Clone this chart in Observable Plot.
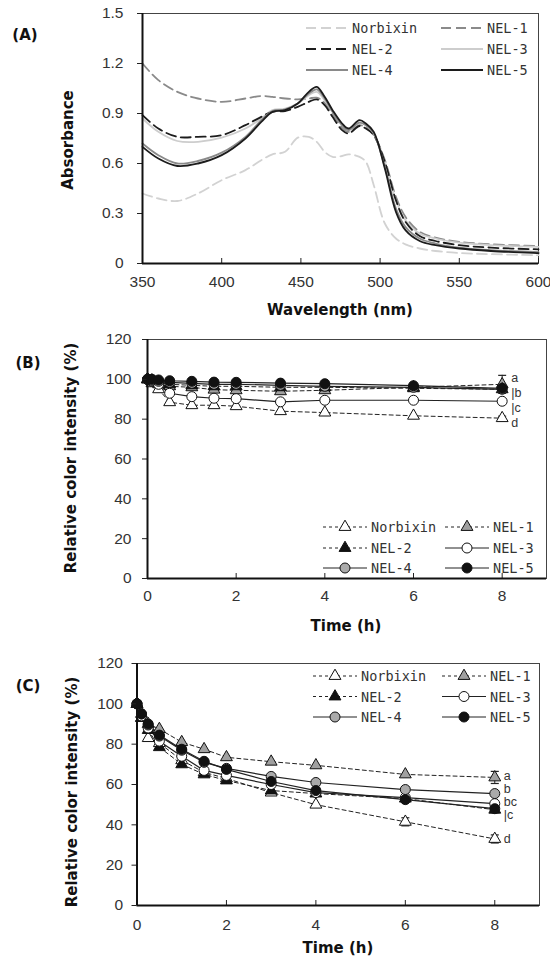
<!DOCTYPE html>
<html>
<head>
<meta charset="utf-8">
<script src="https://cdn.jsdelivr.net/npm/d3@7"></script>
<script src="https://cdn.jsdelivr.net/npm/@observablehq/plot@0.6"></script>
<style>
html,body{margin:0;padding:0;background:#fff;}
#wrap{position:relative;width:550px;height:957px;overflow:hidden;background:#fff;}
#wrap svg{position:absolute;left:0;display:block;overflow:visible;}
</style>
</head>
<body>
<div id="wrap"></div>
<script>
// ================= DATA =================
const seriesNames = ["Norbixin", "NEL-1", "NEL-2", "NEL-3", "NEL-4", "NEL-5"];

// Panel A: absorbance spectra
const wavelengths = [350, 360, 372, 385, 400, 415, 425, 432, 440, 448, 455, 460, 465, 470, 476, 480, 487, 491, 496, 503, 510, 516, 525, 535, 550, 570, 600];
const absNorbixin = [0.42, 0.39, 0.375, 0.42, 0.50, 0.56, 0.62, 0.655, 0.67, 0.755, 0.76, 0.73, 0.67, 0.64, 0.645, 0.655, 0.64, 0.61, 0.47, 0.24, 0.15, 0.115, 0.09, 0.075, 0.063, 0.056, 0.05];
const absNEL1 = [1.20, 1.10, 1.03, 0.99, 0.97, 0.99, 1.005, 1.00, 0.99, 0.985, 0.99, 0.995, 0.965, 0.90, 0.815, 0.79, 0.83, 0.815, 0.77, 0.62, 0.40, 0.28, 0.19, 0.155, 0.13, 0.115, 0.105];
const absNEL2 = [0.89, 0.81, 0.76, 0.76, 0.77, 0.83, 0.88, 0.91, 0.915, 0.94, 0.97, 0.985, 0.95, 0.88, 0.80, 0.78, 0.825, 0.81, 0.77, 0.61, 0.38, 0.25, 0.165, 0.135, 0.11, 0.095, 0.085];
const absNEL3 = [0.87, 0.79, 0.735, 0.73, 0.755, 0.81, 0.87, 0.92, 0.93, 0.96, 1.01, 1.03, 0.98, 0.91, 0.83, 0.80, 0.845, 0.83, 0.78, 0.61, 0.38, 0.26, 0.18, 0.15, 0.125, 0.11, 0.10];
const absNEL4 = [0.72, 0.65, 0.60, 0.615, 0.665, 0.76, 0.86, 0.915, 0.925, 0.96, 1.02, 1.045, 0.99, 0.91, 0.83, 0.80, 0.845, 0.83, 0.78, 0.58, 0.33, 0.22, 0.15, 0.12, 0.095, 0.08, 0.068];
const absNEL5 = [0.70, 0.63, 0.585, 0.60, 0.65, 0.75, 0.85, 0.91, 0.92, 0.96, 1.03, 1.06, 1.00, 0.92, 0.84, 0.81, 0.86, 0.84, 0.79, 0.57, 0.31, 0.20, 0.135, 0.11, 0.09, 0.075, 0.062];

// Panels B and C: relative color intensity (%) over time (h)
const times = [0, 0.1, 0.25, 0.5, 1, 1.5, 2, 3, 4, 6, 8];
const bNorbixin = [100, 98, 95, 88.5, 87, 87, 86.5, 84, 83.3, 81.7, 80.5];
const bNEL1 = [100, 99, 97.5, 96.5, 96, 94.8, 94.5, 94, 94.5, 96, 97.5];
const bNEL2 = [100, 99.5, 98.5, 97.5, 97, 96.5, 96.5, 96, 96, 95.5, 95];
const bNEL3 = [100, 99, 97.5, 93, 91.3, 90.5, 90.3, 88.7, 89.5, 89.5, 89];
const bNEL4 = [100, 99.5, 99, 98.5, 98, 97.5, 97.5, 97, 96.5, 96, 95];
const bNEL5 = [100, 100, 99.7, 99.3, 99, 98.6, 98.5, 98.1, 97.8, 96.8, 95.5];

const cNorbixin = [100, 93, 83, 80.5, 72, 66, 63, 56, 50, 41.5, 33];
const cNEL1 = [100, 95, 90, 87.5, 81, 77.5, 73.5, 71.3, 69.5, 65, 63.5];
const cNEL2 = [100, 93, 87, 78.5, 70, 65, 62, 57, 55.5, 53, 47.5];
const cNEL3 = [100, 94, 88, 81.5, 74, 67, 64.5, 60, 56, 53.5, 50.5];
const cNEL4 = [100, 95, 89.5, 84, 77, 71, 68, 64, 61, 57.5, 55.5];
const cNEL5 = [100, 95, 90, 84.5, 77.5, 71.5, 67.5, 61.5, 57, 52.5, 48];

// error bars (series, time, sd)
const bErrSeries = ["NEL-1", "Norbixin"];
const bErrTime = [8, 8];
const bErrSd = [4.5, 1];
const cErrSeries = ["NEL-1", "Norbixin", "Norbixin", "NEL-2"];
const cErrTime = [8, 6, 8, 8];
const cErrSd = [3, 2, 2, 1.5];

// significance letters at t = 8
const bLetters = ["a", "|b", "|c", "d"];
const bLetterY = [100.5, 93, 85.5, 78];
const cLetters = ["a", "b", "bc", "|c", "d"];
const cLetterY = [64, 58, 51.5, 45, 33];

// ticks
const xTicksA = [350, 400, 450, 500, 550, 600];
const yTicksA = [0, 0.3, 0.6, 0.9, 1.2, 1.5];
const xTicksT = [0, 2, 4, 6, 8];
const yTicksT = [0, 20, 40, 60, 80, 100, 120];

// ================= BUILD TABLES =================
const absBy = {"Norbixin": absNorbixin, "NEL-1": absNEL1, "NEL-2": absNEL2, "NEL-3": absNEL3, "NEL-4": absNEL4, "NEL-5": absNEL5};
const bBy = {"Norbixin": bNorbixin, "NEL-1": bNEL1, "NEL-2": bNEL2, "NEL-3": bNEL3, "NEL-4": bNEL4, "NEL-5": bNEL5};
const cBy = {"Norbixin": cNorbixin, "NEL-1": cNEL1, "NEL-2": cNEL2, "NEL-3": cNEL3, "NEL-4": cNEL4, "NEL-5": cNEL5};

const tableFrom = (by, xs) => seriesNames.flatMap(s => xs.map((x, i) => ({series: s, x, v: by[s][i]})));
const absData = tableFrom(absBy, wavelengths);
const bData = tableFrom(bBy, times);
const cData = tableFrom(cBy, times);
const errTable = (by, ser, tm, sd) => ser.map((s, i) => {
  const m = by[s][times.indexOf(tm[i])];
  return {series: s, x: tm[i], lo: m - sd[i], hi: m + sd[i]};
});
const bErr = errTable(bBy, bErrSeries, bErrTime, bErrSd);
const cErr = errTable(cBy, cErrSeries, cErrTime, cErrSd);

// ================= STYLES =================
const lineStyleA = {
  "Norbixin": {stroke: "#d2d2d2", dash: "10,5"},
  "NEL-1": {stroke: "#8a8a8a", dash: "10,5"},
  "NEL-2": {stroke: "#1c1c1c", dash: "10,5"},
  "NEL-3": {stroke: "#cdcdcd", dash: null},
  "NEL-4": {stroke: "#8a8a8a", dash: null},
  "NEL-5": {stroke: "#1c1c1c", dash: null}
};
const markStyle = {
  "Norbixin": {symbol: "triangle", fill: "#fff", dash: "4,3"},
  "NEL-1": {symbol: "triangle", fill: "#a0a0a0", dash: "4,3"},
  "NEL-2": {symbol: "triangle", fill: "#111", dash: "4,3"},
  "NEL-3": {symbol: "circle", fill: "#fff", dash: null},
  "NEL-4": {symbol: "circle", fill: "#aaaaaa", dash: null},
  "NEL-5": {symbol: "circle", fill: "#111", dash: null}
};
const symR = s => s === "triangle" ? 4.4 : 5;

const W = 550;
const tickFont = "'Liberation Sans', Arial, sans-serif";
const boldFont = "'DejaVu Sans', sans-serif";
const monoFont = "'DejaVu Sans Mono', monospace";

function basePlot(cfg, marks) {
  const innerH = cfg.height - cfg.mt - cfg.mb;
  return Plot.plot({
    width: W, height: cfg.height,
    marginTop: cfg.mt, marginBottom: cfg.mb, marginLeft: cfg.ml, marginRight: cfg.mr,
    style: {fontFamily: tickFont, fontSize: "15px", color: "#333", background: "transparent"},
    x: {domain: cfg.xDomain, label: null},
    y: {domain: cfg.yDomain, label: null},
    marks: [
      Plot.frame({stroke: "#444", strokeWidth: 1}),
      ...marks,
      Plot.ruleX(cfg.xTicks, {stroke: "#222", strokeWidth: 1, insetTop: innerH - 5}),
      Plot.axisX({ticks: cfg.xTicks, label: null, tickSize: 0, tickPadding: cfg.padX, tickFormat: d => String(d), fontSize: 15.5}),
      Plot.axisY({ticks: cfg.yTicks, label: null, tickSize: 5, tickPadding: cfg.padY, tickFormat: cfg.yFmt, fontSize: 15.5, stroke: "#222"}),
      Plot.ruleX([cfg.xDomain[0]], {stroke: "#111", strokeWidth: 2}),
      Plot.ruleY([cfg.yDomain[0]], {stroke: "#111", strokeWidth: 2})
    ]
  });
}

function addTitles(svg, cfg) {
  const g = d3.select(svg);
  g.append("text").attr("x", cfg.xTitle[0]).attr("y", cfg.xTitle[1]).attr("text-anchor", "middle")
    .attr("dominant-baseline", "central").attr("font-family", boldFont).attr("font-weight", "bold")
    .attr("font-size", 15).attr("fill", "#111").text(cfg.xLabel);
  g.append("text").attr("transform", `translate(${cfg.yTitle[0]},${cfg.yTitle[1]}) rotate(-90)`)
    .attr("text-anchor", "middle").attr("dominant-baseline", "central").attr("font-family", boldFont)
    .attr("font-weight", "bold").attr("font-size", 15).attr("fill", "#111").text(cfg.yLabel);
  g.append("text").attr("x", cfg.panelPos[0]).attr("y", cfg.panelPos[1]).attr("text-anchor", "middle")
    .attr("dominant-baseline", "central").attr("font-family", boldFont).attr("font-weight", "bold")
    .attr("font-size", 15).attr("fill", "#111").text(cfg.panel);
}

function addLegend(svg, cfg, kind) {
  const g = d3.select(svg).append("g");
  seriesNames.forEach((s, i) => {
    const col = i % 2, row = Math.floor(i / 2);
    const x0 = cfg.legCols[col], y = cfg.legRows[row], w = cfg.legW;
    if (kind === "line") {
      const st = lineStyleA[s];
      g.append("line").attr("x1", x0).attr("x2", x0 + w).attr("y1", y).attr("y2", y)
        .attr("stroke", st.stroke).attr("stroke-width", 1.8).attr("stroke-dasharray", st.dash);
    } else {
      const st = markStyle[s];
      g.append("line").attr("x1", x0).attr("x2", x0 + w).attr("y1", y).attr("y2", y)
        .attr("stroke", "#222").attr("stroke-width", 1).attr("stroke-dasharray", st.dash ? "3,3" : null);
      const r = symR(st.symbol);
      const sym = d3.symbol().type(st.symbol === "triangle" ? d3.symbolTriangle : d3.symbolCircle).size(Math.PI * r * r);
      g.append("path").attr("d", sym()).attr("transform", `translate(${x0 + w / 2},${y})`)
        .attr("fill", st.fill).attr("stroke", "#111").attr("stroke-width", 1);
    }
    g.append("text").attr("x", x0 + w + cfg.legGap).attr("y", y).attr("dominant-baseline", "central")
      .attr("text-anchor", "start")
      .attr("font-family", monoFont).attr("font-size", 13.5).attr("fill", "#333").text(s);
  });
}

const wrap = document.getElementById("wrap");

// ================= PANEL A =================
{
  const cfg = {height: 320, mt: 13, mb: 57, ml: 142, mr: 12, xDomain: [350, 600], yDomain: [0, 1.5],
    xTicks: xTicksA, yTicks: yTicksA, yFmt: d => d === 0 ? "0" : d.toFixed(1), padX: 12, padY: 14,
    xLabel: "Wavelength (nm)", yLabel: "Absorbance", xTitle: [340, 310], yTitle: [68, 140],
    panel: "(A)", panelPos: [25, 35],
    legCols: [306, 441], legRows: [28, 49, 70], legW: 42, legGap: 4};
  const order = ["Norbixin", "NEL-1", "NEL-3", "NEL-2", "NEL-4", "NEL-5"];
  const marks = order.map(s => Plot.line(absData.filter(d => d.series === s), {
    x: "x", y: "v", stroke: lineStyleA[s].stroke, strokeWidth: 1.8,
    strokeDasharray: lineStyleA[s].dash || undefined, curve: "catmull-rom"}));
  const svg = basePlot(cfg, marks);
  svg.style.top = "0px";
  addTitles(svg, cfg);
  addLegend(svg, cfg, "line");
  wrap.appendChild(svg);
}

function timeMarks(data, err, letters, letterY) {
  const marks = [];
  seriesNames.forEach(s => {
    const st = markStyle[s];
    marks.push(Plot.line(data.filter(d => d.series === s), {x: "x", y: "v", stroke: "#222",
      strokeWidth: st.dash ? 1 : 1.2, strokeDasharray: st.dash || undefined}));
  });
  marks.push(Plot.ruleX(err, {x: "x", y1: "lo", y2: "hi", stroke: "#222", strokeWidth: 1}));
  marks.push(Plot.link(err, {x1: d => d.x - 0.09, x2: d => d.x + 0.09, y1: "hi", y2: "hi", stroke: "#222", strokeWidth: 1.2}));
  marks.push(Plot.link(err, {x1: d => d.x - 0.09, x2: d => d.x + 0.09, y1: "lo", y2: "lo", stroke: "#222", strokeWidth: 1.2}));
  seriesNames.forEach(s => {
    const st = markStyle[s];
    marks.push(Plot.dot(data.filter(d => d.series === s), {x: "x", y: "v", symbol: st.symbol,
      r: symR(st.symbol), fill: st.fill, stroke: "#111", strokeWidth: 1}));
  });
  const lastT = times[times.length - 1];
  marks.push(Plot.text(letters.map((l, i) => ({l, y: letterY[i], x: lastT})), {
    x: "x", y: "y", text: "l", dx: 9, textAnchor: "start", fontSize: 12.5, fill: "#333"}));
  return marks;
}

// ================= PANEL B =================
{
  const cfg = {height: 320, mt: 19, mb: 62, ml: 147, mr: 4, xDomain: [0, 9], yDomain: [0, 120],
    xTicks: xTicksT, yTicks: yTicksT, yFmt: d => String(d), padX: 11, padY: 11,
    xLabel: "Time (h)", yLabel: "Relative color intensity (%)", xTitle: [346, 306], yTitle: [71, 138],
    panel: "(B)", panelPos: [28, 43],
    legCols: [323, 445], legRows: [207, 228, 248], legW: 44, legGap: 4};
  const svg = basePlot(cfg, timeMarks(bData, bErr, bLetters, bLetterY));
  svg.style.top = "320px";
  addTitles(svg, cfg);
  addLegend(svg, cfg, "marker");
  wrap.appendChild(svg);
}

// ================= PANEL C =================
{
  const cfg = {height: 317, mt: 23, mb: 52, ml: 136.5, mr: 11, xDomain: [0, 9], yDomain: [0, 120],
    xTicks: xTicksT, yTicks: yTicksT, yFmt: d => String(d), padX: 13, padY: 9,
    xLabel: "Time (h)", yLabel: "Relative color intensity (%)", xTitle: [338, 308], yTitle: [72, 152],
    panel: "(C)", panelPos: [28, 46],
    legCols: [313, 442], legRows: [36, 56.5, 77], legW: 44, legGap: 4};
  const svg = basePlot(cfg, timeMarks(cData, cErr, cLetters, cLetterY));
  svg.style.top = "640px";
  addTitles(svg, cfg);
  addLegend(svg, cfg, "marker");
  wrap.appendChild(svg);
}
</script>
</body>
</html>
